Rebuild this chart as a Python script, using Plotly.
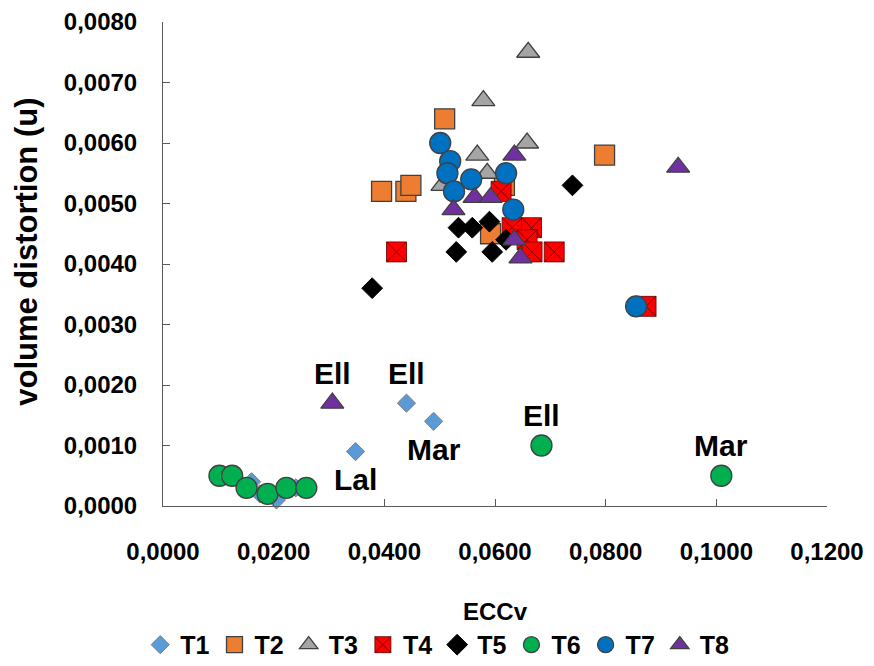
import plotly.graph_objects as go

# ---- data (ECCv, volume distortion) ----
t1_x = [0.0160, 0.0175, 0.0205, 0.0240, 0.0348, 0.0440, 0.0489]
t1_y = [0.0004, 0.0002, 0.0001, 0.0003, 0.0009, 0.0017, 0.0014]

t2_x = [0.0395, 0.0439, 0.0448, 0.0509, 0.0592, 0.0617, 0.0798]
t2_y = [0.0052, 0.0052, 0.0053, 0.0064, 0.0045, 0.0053, 0.0058]

t3_x = [0.0579, 0.0660, 0.0658, 0.0568, 0.0586, 0.0505]
t3_y = [0.0067, 0.0075, 0.0060, 0.0058, 0.0055, 0.0053]

t4_x = [0.0422, 0.0611, 0.0631, 0.0666, 0.0658, 0.0667, 0.0707, 0.0873]
t4_y = [0.0042, 0.0052, 0.0046, 0.0046, 0.0044, 0.0042, 0.0042, 0.0033]

t5_x = [0.0378, 0.0534, 0.0559, 0.0590, 0.0530, 0.0595, 0.0620, 0.0740]
t5_y = [0.0036, 0.0046, 0.0046, 0.0047, 0.0042, 0.0042, 0.0044, 0.0053]

t6_x = [0.0102, 0.0125, 0.0151, 0.0189, 0.0223, 0.0259, 0.0684, 0.1009]
t6_y = [0.0005, 0.0005, 0.0003, 0.0002, 0.0003, 0.0003, 0.0010, 0.0005]

t7_x = [0.0501, 0.0519, 0.0514, 0.0557, 0.0620, 0.0526, 0.0633, 0.0855]
t7_y = [0.0060, 0.0057, 0.0055, 0.0054, 0.0055, 0.0052, 0.0049, 0.0033]

t8_x = [0.0635, 0.0563, 0.0592, 0.0525, 0.0635, 0.0646, 0.0931, 0.0306]
t8_y = [0.0058, 0.0051, 0.0051, 0.0049, 0.0044, 0.0041, 0.0056, 0.0017]

series_names = ["T1", "T2", "T3", "T4", "T5", "T6", "T7", "T8"]

# point labels: text, x, y, position (above / below)
label_text = ["Ell", "Ell", "Mar", "Lal", "Ell", "Mar"]
label_x = [0.0306, 0.0440, 0.0489, 0.0348, 0.0684, 0.1009]
label_y = [0.0017, 0.0017, 0.0014, 0.0009, 0.0010, 0.0005]
label_pos = ["above", "above", "below", "below", "above", "above"]

x_ticks = [0.0, 0.02, 0.04, 0.06, 0.08, 0.10, 0.12]
y_ticks = [0.0, 0.001, 0.002, 0.003, 0.004, 0.005, 0.006, 0.007, 0.008]

FONT = "Liberation Sans, Arial, sans-serif"
EDGE = "#404040"

styles = [
    dict(symbol="diamond", size=14, color="#5B9BD5", line=dict(color="#7F7F7F", width=1)),
    dict(symbol="square", size=20, color="#ED7D31", line=dict(color=EDGE, width=1.3)),
    dict(symbol="triangle-up", size=20, color="#A5A5A5", line=dict(color=EDGE, width=1.3)),
    dict(symbol="square-x", size=20, color="#FF0000", line=dict(color="#5a0000", width=0.8)),
    dict(symbol="diamond", size=16, color="#000000", line=dict(color="#000000", width=1)),
    dict(symbol="circle", size=21, color="#00B050", line=dict(color=EDGE, width=1.3)),
    dict(symbol="circle", size=21, color="#0070C0", line=dict(color=EDGE, width=1.3)),
    dict(symbol="triangle-up", size=20, color="#7030A0", line=dict(color=EDGE, width=1.3)),
]

xs = [t1_x, t2_x, t3_x, t4_x, t5_x, t6_x, t7_x, t8_x]
ys = [t1_y, t2_y, t3_y, t4_y, t5_y, t6_y, t7_y, t8_y]

fig = go.Figure()
for name, x, y, st in zip(series_names, xs, ys, styles):
    fig.add_trace(go.Scatter(
        x=x, y=y, mode="markers", name=name, cliponaxis=False,
        marker=st,
    ))

for t, x, y, p in zip(label_text, label_x, label_y, label_pos):
    fig.add_annotation(
        x=x, y=y, text=t, showarrow=False,
        yshift=30 if p == "above" else -28,
        font=dict(family=FONT, size=30, color="#000000", weight="bold"),
    )

# y-axis title placed as a rotated annotation
fig.add_annotation(
    xref="paper", yref="paper", x=-0.205, y=0.525, xanchor="center", yanchor="middle",
    text="volume distortion (u)", textangle=-90, showarrow=False,
    font=dict(family=FONT, size=31, color="#000000", weight="bold"),
)
# x-axis title
fig.add_annotation(
    xref="paper", yref="paper", x=0.5, y=-0.219, xanchor="center", yanchor="middle",
    text="ECCv", showarrow=False,
    font=dict(family=FONT, size=24, color="#000000", weight="bold"),
)

fig.update_layout(
    width=874, height=666,
    margin=dict(l=163, r=47, t=22, b=160, autoexpand=False),
    paper_bgcolor="white", plot_bgcolor="white",
    separators=",.",
    font=dict(family=FONT, color="#000000"),
    showlegend=True,
    legend=dict(
        orientation="h", x=0.413, xanchor="center", y=-0.287, yanchor="middle",
        font=dict(family=FONT, size=25, color="#000000", weight="bold"),
        itemwidth=30, tracegroupgap=0,
    ),
)

fig.update_xaxes(
    range=[0, 0.12], tickvals=x_ticks, tickformat=".4f",
    showgrid=False, zeroline=False,
    showline=True, linecolor="#595959", linewidth=1,
    ticks="inside", ticklen=7, tickcolor="#595959",
    tickfont=dict(family=FONT, size=24, color="#000000", weight="bold"),
    ticklabelstandoff=24,
)
fig.update_yaxes(
    range=[0, 0.008], tickvals=y_ticks, tickformat=".4f",
    showgrid=False, zeroline=False,
    showline=True, linecolor="#595959", linewidth=1,
    ticks="inside", ticklen=7, tickcolor="#595959",
    tickfont=dict(family=FONT, size=24, color="#000000", weight="bold"),
    ticklabelstandoff=20,
)

fig.write_html("out.html")
